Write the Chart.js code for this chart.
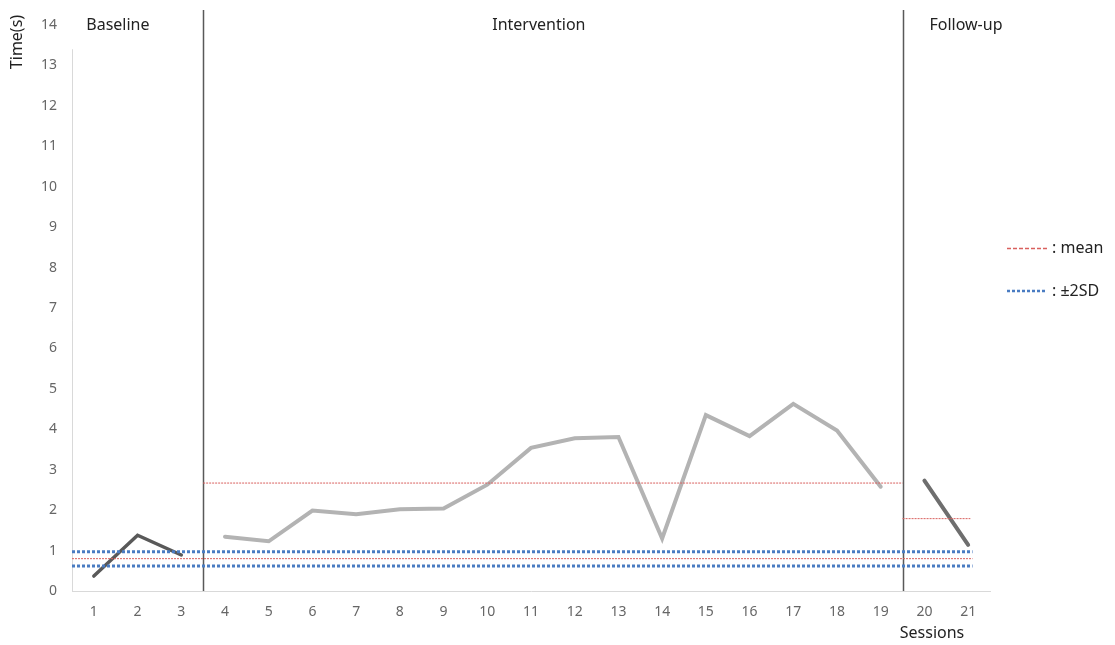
<!DOCTYPE html>
<html>
<head>
<meta charset="utf-8">
<script src="https://cdn.jsdelivr.net/npm/chart.js@4"></script>
<style>
  html, body { margin: 0; padding: 0; background: #ffffff; }
  #wrap { width: 1115px; height: 645px; }
</style>
</head>
<body>
<div id="wrap"><canvas id="c" width="1115" height="645"></canvas></div>
<script>
// Session numbers and measured times (seconds) per phase
const sessions = Array.from({ length: 21 }, (_, i) => i + 1);
const baselineSessions = [1, 2, 3];
const baselineTimes = [0.37, 1.38, 0.89];
const interventionSessions = [4, 5, 6, 7, 8, 9, 10, 11, 12, 13, 14, 15, 16, 17, 18, 19];
const interventionTimes = [1.34, 1.23, 1.99, 1.9, 2.02, 2.04, 2.63, 3.54, 3.78, 3.81, 1.3, 4.35, 3.83, 4.63, 3.97, 2.58];
const followupSessions = [20, 21];
const followupTimes = [2.73, 1.14];

// Phase summary values
const phaseNames = ['Baseline', 'Intervention', 'Follow-up'];
const baselineMean = 0.8;
const interventionMean = 2.67;
const followupMean = 1.79;
const baselineUpper2SD = 0.97;
const baselineLower2SD = 0.62;

const yTicks = [0, 1, 2, 3, 4, 5, 6, 7, 8, 9, 10, 11, 12, 13, 14];

const toPts = (xs, ys) => xs.map((x, i) => ({ x, y: ys[i] }));
const hLine = (x0, x1, y) => [{ x: x0, y }, { x: x1, y }];

const FONT = "'Noto Sans', 'Open Sans', sans-serif";

const phaseDecor = {
  id: 'phaseDecor',
  beforeDatasetsDraw(chart) {
    const { ctx, chartArea, scales } = chart;
    const xs = scales.x, ys = scales.y;
    ctx.save();
    // left axis line
    ctx.strokeStyle = '#d9d9d9';
    ctx.lineWidth = 1;
    ctx.beginPath();
    ctx.moveTo(chartArea.left + 0.5, ys.getPixelForValue(13.4));
    ctx.lineTo(chartArea.left + 0.5, chartArea.bottom);
    ctx.stroke();
    // phase change lines
    ctx.strokeStyle = '#595959';
    ctx.lineWidth = 1.5;
    [3.5, 19.5].forEach(v => {
      const px = Math.round(xs.getPixelForValue(v)) + 0.5;
      ctx.beginPath();
      ctx.moveTo(px, 10);
      ctx.lineTo(px, chartArea.bottom);
      ctx.stroke();
    });
    ctx.restore();
  },
  afterDraw(chart) {
    const { ctx, scales } = chart;
    const xs = scales.x, ys = scales.y;
    ctx.save();
    ctx.fillStyle = '#222222';
    ctx.font = '16px ' + FONT;
    ctx.textAlign = 'center';
    ctx.textBaseline = 'middle';
    const yTop = ys.getPixelForValue(14);
    ctx.fillText(phaseNames[0], xs.getPixelForValue(1.55), yTop);
    ctx.fillText(phaseNames[1], xs.getPixelForValue(11.18), yTop);
    ctx.fillText(phaseNames[2], xs.getPixelForValue(20.95), yTop);

    // axis titles
    ctx.fillText('Sessions', 932, 633);
    ctx.save();
    ctx.translate(17, 42);
    ctx.rotate(-Math.PI / 2);
    ctx.fillText('Time(s)', 0, 0);
    ctx.restore();

    // key for reference lines
    ctx.textAlign = 'left';
    ctx.strokeStyle = '#d9605e';
    ctx.lineWidth = 1.5;
    ctx.setLineDash([4, 2]);
    ctx.beginPath();
    ctx.moveTo(1007, 248.5);
    ctx.lineTo(1047, 248.5);
    ctx.stroke();
    ctx.strokeStyle = '#4a7cc2';
    ctx.lineWidth = 2.5;
    ctx.setLineDash([3, 2]);
    ctx.beginPath();
    ctx.moveTo(1007, 291);
    ctx.lineTo(1047, 291);
    ctx.stroke();
    ctx.setLineDash([]);
    ctx.fillText(': mean', 1052, 248);
    ctx.fillText(': \u00b12SD', 1052, 291);
    ctx.restore();
  }
};

const redDash = { borderColor: '#d9605e', borderWidth: 1, borderDash: [2, 1], pointRadius: 0, fill: false };
const blueDot = { borderColor: '#4a7cc2', borderWidth: 3, borderDash: [3, 2], pointRadius: 0, fill: false };

new Chart(document.getElementById('c'), {
  type: 'line',
  data: {
    datasets: [
      { label: 'upper', data: hLine(0.5, 21.1, baselineUpper2SD), ...blueDot },
      { label: 'lower', data: hLine(0.5, 21.1, baselineLower2SD), ...blueDot },
      { label: 'baseline mean', data: hLine(0.5, 21.1, baselineMean), ...redDash },
      { label: 'intervention mean', data: hLine(3.5, 19.5, interventionMean), ...redDash },
      { label: 'follow-up mean', data: hLine(19.5, 21.05, followupMean), ...redDash },
      {
        label: 'Baseline', data: toPts(baselineSessions, baselineTimes),
        borderColor: '#595959', borderWidth: 3.5, pointRadius: 0, borderCapStyle: 'round', tension: 0
      },
      {
        label: 'Intervention', data: toPts(interventionSessions, interventionTimes),
        borderColor: '#b3b3b3', borderWidth: 4, pointRadius: 0, borderCapStyle: 'round', tension: 0
      },
      {
        label: 'Follow-up', data: toPts(followupSessions, followupTimes),
        borderColor: '#6e6e6e', borderWidth: 4, pointRadius: 0, borderCapStyle: 'round', tension: 0
      }
    ]
  },
  options: {
    responsive: false,
    animation: false,
    layout: { padding: { top: 25, right: 125, left: 0, bottom: 0 } },
    plugins: { legend: { display: false }, tooltip: { enabled: false } },
    scales: {
      x: {
        type: 'linear',
        min: 0.5,
        max: 21.5,
        afterBuildTicks(scale) { scale.ticks = sessions.map(v => ({ value: v })); },
        afterFit(scale) { scale.height = 54; },
        grid: { display: false, drawTicks: false },
        border: { display: true, color: '#d9d9d9', width: 1 },
        ticks: { color: '#666666', font: { family: FONT, size: 14 }, padding: 13, maxRotation: 0, autoSkip: false }
      },
      y: {
        min: 0,
        max: 14,
        afterBuildTicks(scale) { scale.ticks = yTicks.map(v => ({ value: v })); },
        afterFit(scale) { scale.width = 72; },
        grid: { display: false, drawTicks: false },
        border: { display: false },
        ticks: { color: '#666666', font: { family: FONT, size: 14 }, padding: 15 }
      }
    }
  },
  plugins: [phaseDecor]
});
</script>
</body>
</html>
